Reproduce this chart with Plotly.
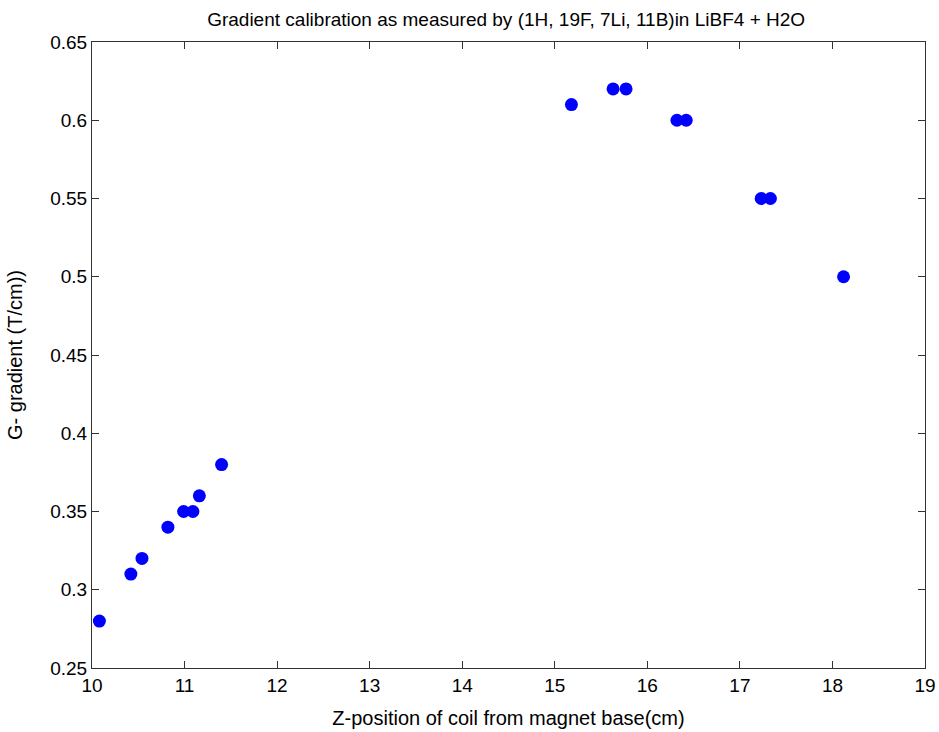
import plotly.graph_objects as go

# Coil position (cm) and measured gradient (T/cm)
z_position = [10.08, 10.42, 10.54, 10.82, 10.99, 11.09, 11.16, 11.40,
              15.18, 15.63, 15.77, 16.32, 16.42, 17.23, 17.33, 18.12]
gradient = [0.28, 0.31, 0.32, 0.34, 0.35, 0.35, 0.36, 0.38,
            0.61, 0.62, 0.62, 0.60, 0.60, 0.55, 0.55, 0.50]

x_ticks = list(range(10, 20))
y_ticks = [0.25, 0.3, 0.35, 0.4, 0.45, 0.5, 0.55, 0.6, 0.65]
y_tick_text = ["0.25", "0.3", "0.35", "0.4", "0.45", "0.5", "0.55", "0.6", "0.65"]

font_family = "Liberation Sans, Arial, sans-serif"

fig = go.Figure()
fig.add_trace(go.Scatter(
    x=z_position, y=gradient, mode="markers",
    marker=dict(color="#0000ff", size=13, line=dict(width=0)),
    showlegend=False,
))

axis_common = dict(
    showgrid=False, zeroline=False, showline=True, linecolor="#333333",
    linewidth=1, mirror="ticks", ticks="inside", ticklen=7, automargin=False,
    tickcolor="#333333", tickfont=dict(family=font_family, size=19, color="#000000"),
)

fig.update_layout(
    width=939, height=732,
    margin=dict(l=92, r=14, t=42, b=64),
    paper_bgcolor="white", plot_bgcolor="white",
    title=dict(text="Gradient calibration as measured by (1H, 19F, 7Li, 11B)in LiBF4 + H2O",
               x=0.539, xanchor="center", y=0.973, yanchor="middle",
               font=dict(family=font_family, size=19, color="#000000")),
    xaxis=dict(range=[10, 19], tickvals=x_ticks,
               title=dict(text="Z-position of coil from magnet base(cm)",
                          font=dict(family=font_family, size=20, color="#000000"),
                          standoff=16),
               **axis_common),
    yaxis=dict(range=[0.25, 0.65], tickvals=y_ticks, ticktext=y_tick_text,
               title=dict(text="G- gradient (T/cm))",
                          font=dict(family=font_family, size=20, color="#000000"),
                          standoff=22),
               **axis_common),
)

fig.write_html("out.html")
